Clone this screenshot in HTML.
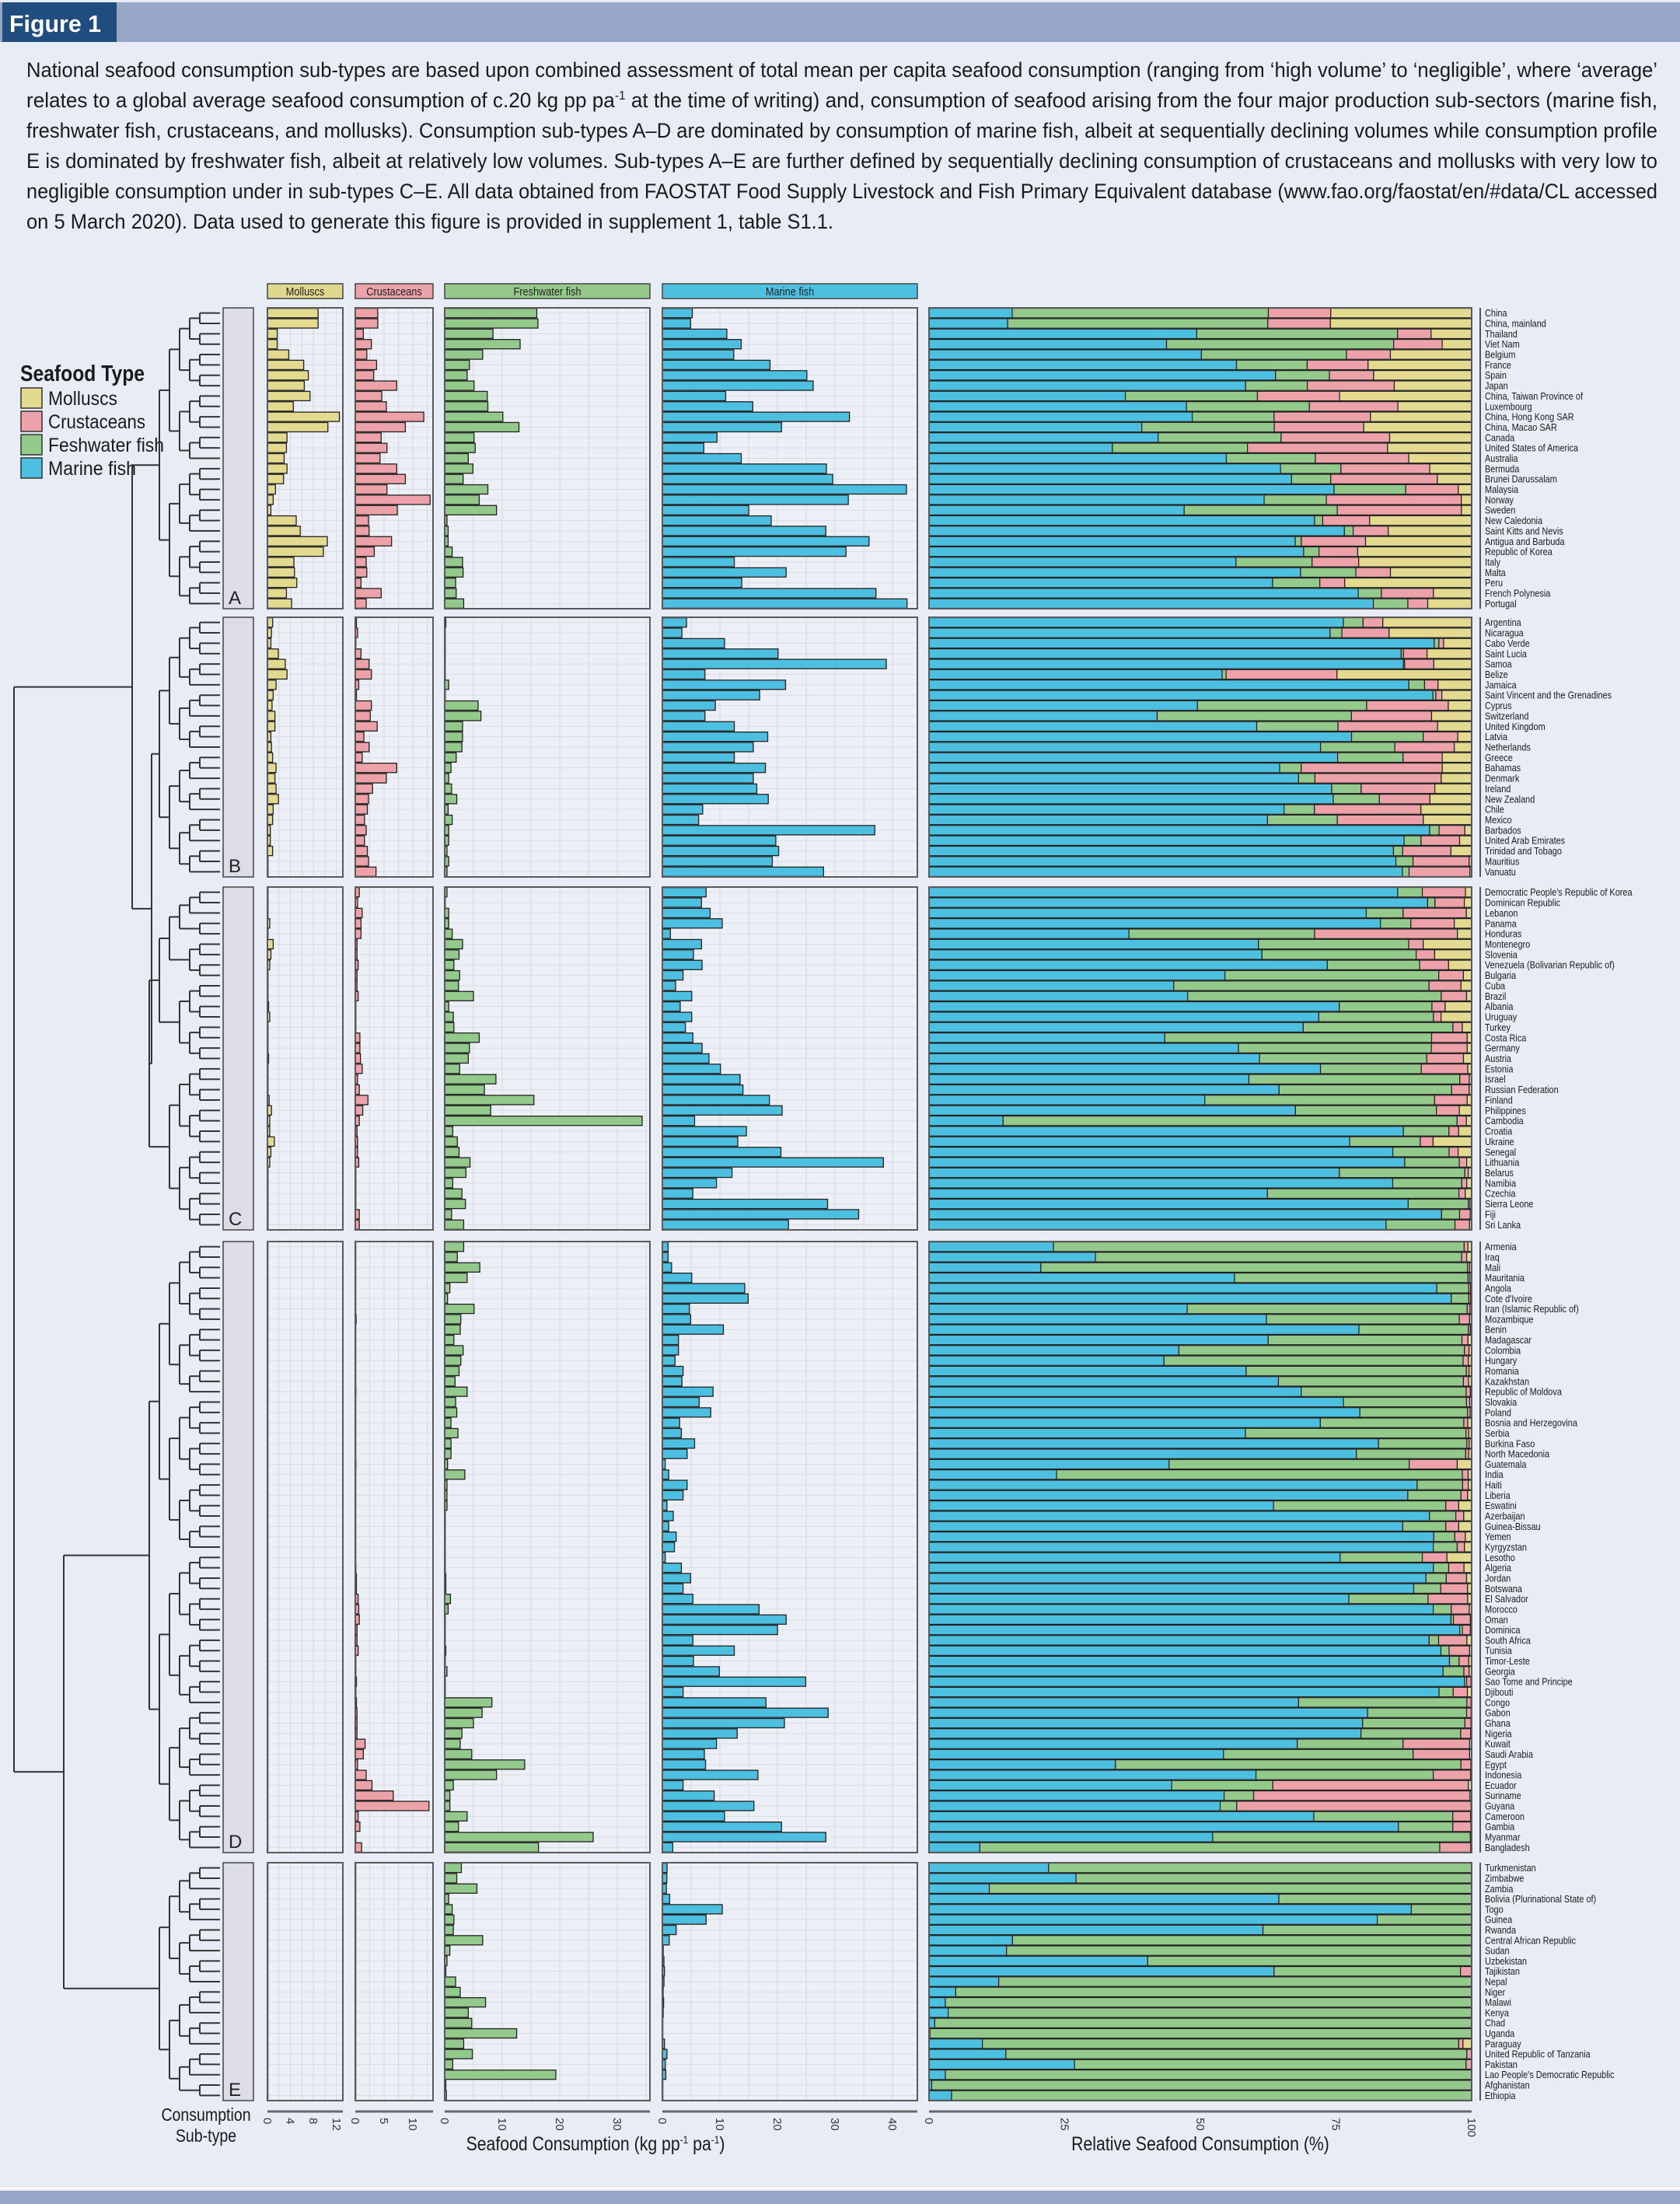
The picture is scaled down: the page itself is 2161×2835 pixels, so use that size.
<!DOCTYPE html>
<html><head><meta charset="utf-8"><title>Figure 1 - National seafood consumption sub-types</title>
<style>
html,body{margin:0;padding:0;background:#e8edf5;}
svg{display:block;}
text{font-family:"Liberation Sans Narrow","Liberation Sans",sans-serif;}
</style></head>
<body>
<svg id="fig" xmlns="http://www.w3.org/2000/svg" width="2161" height="2835" viewBox="0 0 2161 2835">
<rect x="0" y="0" width="2161" height="2835" fill="#e8edf5"/>
<rect x="0" y="3" width="2161" height="51" fill="#97a7c8"/>
<rect x="3" y="3" width="147" height="51" fill="#1f4d7e"/>
<text x="12" y="41" font-size="31" font-weight="bold" fill="#ffffff" textLength="118" lengthAdjust="spacingAndGlyphs">Figure 1</text>
<g font-size="27" fill="#1a1a1a">
<text x="34" y="99" textLength="2098" lengthAdjust="spacingAndGlyphs">National seafood consumption sub-types are based upon combined assessment of total mean per capita seafood consumption (ranging from ‘high volume’ to ‘negligible’, where ‘average’</text>
<text x="34" y="138" textLength="2098" lengthAdjust="spacingAndGlyphs">relates to a global average seafood consumption of c.20 kg pp pa<tspan font-size="16" dy="-10">-1</tspan><tspan dy="10"> at the time of writing) and, consumption of seafood arising from the four major production sub-sectors (marine fish,</tspan></text>
<text x="34" y="177" textLength="2098" lengthAdjust="spacingAndGlyphs">freshwater fish, crustaceans, and mollusks). Consumption sub-types A–D are dominated by consumption of marine fish, albeit at sequentially declining volumes while consumption profile</text>
<text x="34" y="216" textLength="2098" lengthAdjust="spacingAndGlyphs">E is dominated by freshwater fish, albeit at relatively low volumes. Sub-types A–E are further defined by sequentially declining consumption of crustaceans and mollusks with very low to</text>
<text x="34" y="255" textLength="2098" lengthAdjust="spacingAndGlyphs">negligible consumption under in sub-types C–E. All data obtained from FAOSTAT Food Supply Livestock and Fish Primary Equivalent database (www.fao.org/faostat/en/#data/CL accessed</text>
<text x="34" y="294" textLength="1038" lengthAdjust="spacingAndGlyphs">on 5 March 2020). Data used to generate this figure is provided in supplement 1, table S1.1.</text>
</g>
<g>
<text x="26" y="490" font-size="29" font-weight="bold" fill="#1a1a1a" textLength="160" lengthAdjust="spacingAndGlyphs">Seafood Type</text>
<rect x="27" y="499" width="27" height="26" fill="#e3d98f" stroke="#333" stroke-width="1.5"/>
<text x="62" y="521" font-size="25" fill="#1a1a1a" textLength="89" lengthAdjust="spacingAndGlyphs">Molluscs</text>
<rect x="27" y="529" width="27" height="26" fill="#eca2a8" stroke="#333" stroke-width="1.5"/>
<text x="62" y="551" font-size="25" fill="#1a1a1a" textLength="125" lengthAdjust="spacingAndGlyphs">Crustaceans</text>
<rect x="27" y="559" width="27" height="26" fill="#93c98a" stroke="#333" stroke-width="1.5"/>
<text x="62" y="581" font-size="25" fill="#1a1a1a" textLength="149" lengthAdjust="spacingAndGlyphs">Feshwater fish</text>
<rect x="27" y="589" width="27" height="26" fill="#4dc0e2" stroke="#333" stroke-width="1.5"/>
<text x="62" y="611" font-size="25" fill="#1a1a1a" textLength="113" lengthAdjust="spacingAndGlyphs">Marine fish</text>
</g>
<rect x="0" y="2814" width="2161" height="2" fill="#ffffff"/>
<rect x="0" y="2818" width="2161" height="17" fill="#97a7c8"/>
<g id="plot"></g>
</svg>
<script>
// ---- data ----
const groupNames = ["A","B","C","D","E"];
const groupSizes = [29,25,33,59,23];
const countries = [
"China","China, mainland","Thailand","Viet Nam","Belgium","France","Spain","Japan","China, Taiwan Province of","Luxembourg","China, Hong Kong SAR","China, Macao SAR","Canada","United States of America","Australia","Bermuda","Brunei Darussalam","Malaysia","Norway","Sweden","New Caledonia","Saint Kitts and Nevis","Antigua and Barbuda","Republic of Korea","Italy","Malta","Peru","French Polynesia","Portugal",
"Argentina","Nicaragua","Cabo Verde","Saint Lucia","Samoa","Belize","Jamaica","Saint Vincent and the Grenadines","Cyprus","Switzerland","United Kingdom","Latvia","Netherlands","Greece","Bahamas","Denmark","Ireland","New Zealand","Chile","Mexico","Barbados","United Arab Emirates","Trinidad and Tobago","Mauritius","Vanuatu",
"Democratic People's Republic of Korea","Dominican Republic","Lebanon","Panama","Honduras","Montenegro","Slovenia","Venezuela (Bolivarian Republic of)","Bulgaria","Cuba","Brazil","Albania","Uruguay","Turkey","Costa Rica","Germany","Austria","Estonia","Israel","Russian Federation","Finland","Philippines","Cambodia","Croatia","Ukraine","Senegal","Lithuania","Belarus","Namibia","Czechia","Sierra Leone","Fiji","Sri Lanka",
"Armenia","Iraq","Mali","Mauritania","Angola","Cote d'Ivoire","Iran (Islamic Republic of)","Mozambique","Benin","Madagascar","Colombia","Hungary","Romania","Kazakhstan","Republic of Moldova","Slovakia","Poland","Bosnia and Herzegovina","Serbia","Burkina Faso","North Macedonia","Guatemala","India","Haiti","Liberia","Eswatini","Azerbaijan","Guinea-Bissau","Yemen","Kyrgyzstan","Lesotho","Algeria","Jordan","Botswana","El Salvador","Morocco","Oman","Dominica","South Africa","Tunisia","Timor-Leste","Georgia","Sao Tome and Principe","Djibouti","Congo","Gabon","Ghana","Nigeria","Kuwait","Saudi Arabia","Egypt","Indonesia","Ecuador","Suriname","Guyana","Cameroon","Gambia","Myanmar","Bangladesh",
"Turkmenistan","Zimbabwe","Zambia","Bolivia (Plurinational State of)","Togo","Guinea","Rwanda","Central African Republic","Sudan","Uzbekistan","Tajikistan","Nepal","Niger","Malawi","Kenya","Chad","Uganda","Paraguay","United Republic of Tanzania","Pakistan","Lao People's Democratic Republic","Afghanistan","Ethiopia"];
const molluscs = [
8.8,8.8,1.7,1.7,3.7,6.3,7.1,6.4,7.4,4.5,12.5,10.5,3.4,3.3,2.9,3.4,2.8,1.4,1.0,0.6,5.0,5.7,10.4,9.7,4.6,4.7,5.1,3.3,4.2,
0.9,0.7,0.6,1.9,3.1,3.4,1.5,1.0,0.8,1.3,1.3,0.6,0.7,0.9,1.5,1.3,1.5,1.9,1.0,0.9,0.5,0.5,0.9,0.1,0.1,
0.1,0.1,0.1,0.4,0.1,1.0,0.6,0.4,0.1,0.1,0.1,0.2,0.4,0.1,0.1,0.1,0.2,0.1,0.1,0.1,0.3,0.7,0.4,0.4,1.2,0.6,0.4,0.1,0.1,0.1,0.1,0.1,0.1,
0.03,0.03,0.03,0.03,0.03,0.03,0.03,0.03,0.03,0.03,0.03,0.03,0.03,0.03,0.03,0.03,0.03,0.03,0.03,0.03,0.03,0.03,0.03,0.03,0.03,0.03,0.03,0.03,0.03,0.03,0.03,0.05,0.05,0.03,0.05,0.08,0.05,0.05,0.05,0.05,0.03,0.05,0.03,0.03,0.03,0.03,0.03,0.03,0.05,0.05,0.03,0.05,0.05,0.05,0.03,0.03,0.03,0.03,0.03,
0,0,0,0,0,0,0,0,0,0,0,0,0,0,0,0,0,0.06,0,0,0,0,0];
const crustaceans = [
3.9,3.9,1.4,2.8,2.0,3.7,3.2,7.2,4.6,5.4,11.9,8.7,4.5,5.5,4.3,7.2,8.7,5.5,13.0,7.3,2.3,2.4,6.3,3.3,1.9,2.0,1.0,4.5,1.9,
0.2,0.4,0.1,1.0,2.4,2.8,0.6,0.2,2.8,2.6,3.8,1.5,2.4,1.2,7.2,5.4,3.0,2.3,2.1,1.6,1.9,1.6,2.1,2.3,3.6,
0.7,0.4,1.2,1.0,1.0,0.3,0.3,0.5,0.3,0.3,0.5,0.1,0.1,0.1,0.8,0.8,0.9,1.2,0.4,0.7,2.2,1.3,0.7,0.3,0.4,0.4,0.6,0.1,0.1,0.1,0.1,0.7,0.7,
0.03,0.03,0.03,0.03,0.05,0.05,0.05,0.15,0.05,0.05,0.05,0.05,0.03,0.05,0.1,0.05,0.05,0.03,0.03,0.03,0.03,0.1,0.05,0.05,0.05,0.03,0.03,0.03,0.05,0.03,0.03,0.1,0.2,0.2,0.5,0.6,0.7,0.3,0.3,0.5,0.1,0.1,0.2,0.1,0.2,0.3,0.3,0.3,1.7,1.4,0.4,1.9,2.9,6.6,12.8,0.5,0.8,0.1,1.1,
0,0,0,0,0,0,0,0,0,0,0.012,0,0,0,0,0,0,0.03,0.05,0.02,0,0,0];
const freshwater = [
16.0,16.2,8.4,13.1,6.6,4.3,3.9,5.1,7.4,7.5,10.1,12.9,5.1,5.3,4.1,4.9,3.2,7.5,6.0,9.0,0.4,0.6,0.6,1.3,3.1,3.2,1.9,2.0,3.3,
0.2,0.1,0.1,0.1,0.1,0.1,0.7,0.1,5.8,6.3,3.1,3.1,3.0,2.0,1.1,0.7,1.2,2.1,0.6,1.3,0.7,0.7,0.4,0.7,0.4,
0.4,0.1,0.7,0.7,1.3,3.1,2.5,1.6,2.6,2.4,5.0,0.7,1.5,1.6,6.0,4.3,4.1,2.6,8.9,6.9,15.5,8.0,34.3,1.4,2.2,2.5,4.4,3.7,1.4,3.0,3.6,1.2,3.3,
3.3,2.2,6.1,3.9,0.9,0.5,5.1,2.8,2.7,1.6,3.2,2.8,2.5,1.8,3.9,1.9,2.1,1.1,2.3,1.1,1.1,0.5,3.5,0.4,0.4,0.4,0.1,0.1,0.1,0.1,0.1,0.1,0.2,0.2,1.0,0.6,0.1,0.1,0.1,0.2,0.1,0.4,0.1,0.1,8.2,6.5,5.0,3.0,2.7,4.7,13.9,9.0,1.5,0.9,0.9,3.9,2.4,25.8,16.3,
2.9,2.1,5.6,0.7,1.3,1.6,1.5,6.6,0.9,0.4,0.2,1.9,2.7,7.1,4.1,4.7,12.5,3.3,4.8,1.4,19.3,0.2,0.3];
const marine = [
5.2,4.9,11.2,13.7,12.4,18.7,25.1,26.2,11.0,15.7,32.5,20.7,9.5,7.2,13.7,28.5,29.6,42.4,32.3,15.0,18.9,28.4,35.9,31.9,12.5,21.5,13.8,37.1,42.5,
4.2,3.4,10.8,20.1,38.9,7.4,21.4,16.9,9.2,7.4,12.5,18.3,15.8,12.5,17.9,15.8,16.4,18.4,7.0,6.3,36.9,19.7,20.2,19.1,28.0,
7.6,6.8,8.3,10.4,1.4,6.8,5.4,6.9,3.6,2.3,5.1,3.1,5.1,4.0,5.3,6.9,8.1,10.1,13.5,14.0,18.6,20.8,5.6,14.6,13.1,20.6,38.4,12.1,9.4,5.3,28.7,34.1,21.9,
1.0,1.0,1.6,5.1,14.3,14.9,4.7,4.9,10.6,2.8,2.8,2.2,3.6,3.4,8.8,6.4,8.4,3.0,3.3,5.6,4.3,0.5,1.1,4.3,3.6,0.8,1.9,1.1,2.4,2.1,0.5,3.3,4.9,3.6,5.3,16.8,21.5,20.0,5.3,12.5,5.4,9.9,24.9,3.6,18.0,28.8,21.2,13.0,9.4,7.3,7.5,16.6,3.6,9.0,15.9,10.8,20.7,28.4,1.8,
0.82,0.78,0.7,1.27,10.4,7.6,2.4,1.2,0.15,0.27,0.37,0.28,0.14,0.22,0.15,0.05,0.02,0.37,0.8,0.52,0.6,0.001,0.013];
const mollTicks = [0,4,8,12];
const crustTicks = [0,5,10];
const freshTicks = [0,10,20,30];
const marineTicks = [0,10,20,30,40];
const relTicks = [0,25,50,75,100];

// ---- layout ----
const NS = "http://www.w3.org/2000/svg";
const plot = document.getElementById("plot");
const groupTop = [396,794,1141,1597,2396];
const groupBottom = [783,1128,1582,2383,2702];
const UNIT = 7.405;
const panels = [
 {key:"molluscs", label:"Molluscs", x0:344, x1:441, vals:molluscs, ticks:mollTicks, fill:"#e3d98f", strip:"#e0d78e", minor:2},
 {key:"crustaceans", label:"Crustaceans", x0:457, x1:557, vals:crustaceans, ticks:crustTicks, fill:"#eca2a8", strip:"#eba2a9", minor:2.5},
 {key:"freshwater", label:"Freshwater fish", x0:572, x1:836, vals:freshwater, ticks:freshTicks, fill:"#93c98a", strip:"#94c98b", minor:5},
 {key:"marine", label:"Marine fish", x0:852, x1:1180, vals:marine, ticks:marineTicks, fill:"#4dc0e2", strip:"#4dc0e2", minor:5}
];
const REL0 = 1195, REL1 = 1893;
function xScale(p, v){ return p.x0 + v*UNIT; }
function relScale(f){ return REL0 + f*(REL1-REL0); }
function mk(tag, attrs, parent){
  const e = document.createElementNS(NS, tag);
  for (const k in attrs) e.setAttribute(k, attrs[k]);
  (parent||plot).appendChild(e);
  return e;
}

// strips
panels.forEach(p=>{
  const s = mk("rect",{x:p.x0,y:365,width:p.x1-p.x0,height:19,fill:p.strip,stroke:"#444","stroke-width":1.5});
  
  
  const cx = (p.x0+p.x1)/2;
  const t = mk("text",{x:0,y:0,"font-size":15,"text-anchor":"middle",fill:"#222",transform:"translate("+cx+",380) scale(0.85,1)"});
  t.textContent = p.label;
  
  
});

let rowStart = 0;
groupNames.forEach((g, gi)=>{
  const n = groupSizes[gi], top = groupTop[gi], bot = groupBottom[gi];
  const pitch = (bot-top)/n;
  const rowY = i => top + pitch*(i+0.5);
  const gs = mk("rect",{x:287,y:top,width:39,height:bot-top,fill:"#dcdde6",stroke:"#444","stroke-width":1.5});
  
  
  const gl = mk("text",{x:294,y:bot-6,"font-size":24,fill:"#222"});
  gl.textContent = g;
  
  
  panels.forEach(p=>{
    const bg = mk("rect",{x:p.x0,y:top,width:p.x1-p.x0,height:bot-top,fill:"#ecf0f6"});
    
    
    const maxV = (p.x1-p.x0)/UNIT;
    for (let v=p.minor; v<maxV; v+=p.minor){
      const gx = xScale(p,v);
      const gline = mk("line",{x1:gx,x2:gx,y1:top,y2:bot,stroke:"#d3d8e1","stroke-width":1});
      
      
    }
    for (let i=0;i<n;i++){
      const hl = mk("line",{x1:p.x0,x2:p.x1,y1:rowY(i),y2:rowY(i),stroke:"#d8dce5","stroke-width":1});
      
      
    }
    for (let i=0;i<n;i++){
      const v = p.vals[rowStart+i];
      const w = Math.max(v*UNIT, 0.6);
      const b = mk("rect",{x:p.x0,y:rowY(i)-pitch*0.45,width:w,height:pitch*0.9,fill:p.fill,stroke:"#222","stroke-width":1.3});
      
      
    }
    const bd = mk("rect",{x:p.x0,y:top,width:p.x1-p.x0,height:bot-top,fill:"none",stroke:"#5a5a5a","stroke-width":2});
    
    
  });
  const rbg = mk("rect",{x:REL0,y:top,width:REL1-REL0,height:bot-top,fill:"#ecf0f6"});
  
  
  for (let i=0;i<n;i++){
    const k = rowStart+i;
    const parts = [[marine[k],"#4dc0e2","marine"],[freshwater[k],"#93c98a","freshwater"],[crustaceans[k],"#eca2a8","crustaceans"],[molluscs[k],"#e3d98f","molluscs"]];
    const tot = parts.reduce((a,b)=>a+b[0],0);
    let acc = 0;
    parts.forEach(pt=>{
      const f = pt[0]/tot;
      if (f<=0) return;
      const x = relScale(acc), x2 = relScale(acc+f);
      const r = mk("rect",{x:x,y:rowY(i)-pitch*0.46,width:x2-x,height:pitch*0.92,fill:pt[1],stroke:"#222","stroke-width":1.2});
      
      
      acc += f;
    });
    const ly = rowY(i)+4.5;
    const lab = mk("text",{x:0,y:0,"font-size":13,fill:"#1a1a1a",transform:"translate(1910,"+ly+") scale(0.84,1)"});
    lab.textContent = countries[k];
    
    
  }
  const rbd = mk("rect",{x:REL0,y:top,width:REL1-REL0,height:bot-top,fill:"none",stroke:"#5a5a5a","stroke-width":2});
  
  
  const ax = mk("line",{x1:1904,x2:1904,y1:top,y2:bot,stroke:"#555","stroke-width":2});
  
  
  rowStart += n;
});

// ---- dendrogram ----
const LEAF_X = 277;
function buildTree(ys){
  if (ys.length===1) return {x:LEAF_X, y:ys[0]};
  const m = Math.ceil(ys.length/2);
  const a = buildTree(ys.slice(0,m)), b = buildTree(ys.slice(m));
  const h = 7 + 13*Math.ceil(Math.log2(ys.length));
  return {x:LEAF_X-h, y:(a.y+b.y)/2, kids:[a,b]};
}
function drawTree(node){
  if (!node.kids) {
    const lf = mk("line",{x1:LEAF_X,x2:283,y1:node.y,y2:node.y,stroke:"#333","stroke-width":2});
    
    
    return;
  }
  const [a,b] = node.kids;
  const v = mk("line",{x1:node.x,x2:node.x,y1:a.y,y2:b.y,stroke:"#333","stroke-width":2});
  
  
  [a,b].forEach(c=>{
    const hh = mk("line",{x1:node.x,x2:c.x,y1:c.y,y2:c.y,stroke:"#333","stroke-width":2});
    
    
    drawTree(c);
  });
}
const groupTrees = [];
groupNames.forEach((g,gi)=>{
  const n = groupSizes[gi], top = groupTop[gi], pitch = (groupBottom[gi]-top)/n;
  const ys = []; for (let i=0;i<n;i++) ys.push(top+pitch*(i+0.5));
  const t = buildTree(ys); drawTree(t); groupTrees.push(t);
});
function join(a,b,x){
  const node = {x:x, y:(a.y+b.y)/2};
  const v = mk("line",{x1:x,x2:x,y1:a.y,y2:b.y,stroke:"#333","stroke-width":2});
  
  
  [a,b].forEach(c=>{
    const hh = mk("line",{x1:x,x2:c.x,y1:c.y,y2:c.y,stroke:"#333","stroke-width":2});
    
    
  });
  return node;
}
const bc = join(groupTrees[1], groupTrees[2], 195);
const abc = join(groupTrees[0], bc, 170);
const de = join(groupTrees[3], groupTrees[4], 82);
join(abc, de, 18);

// ---- bottom axes ----
const AXY = 2716;
panels.forEach(p=>{
  const al = mk("line",{x1:p.x0,x2:p.x1,y1:AXY,y2:AXY,stroke:"#666","stroke-width":3});
  
  
  p.ticks.forEach(tv=>{
    const tx = xScale(p,tv);
    const t = mk("text",{x:tx-5,y:AXY+8,"font-size":15,fill:"#333",transform:"rotate(90 "+(tx-5)+" "+(AXY+8)+")"});
    t.textContent = tv;
    
    
  });
});
const ral = mk("line",{x1:REL0,x2:REL1,y1:AXY,y2:AXY,stroke:"#666","stroke-width":3});


relTicks.forEach(tv=>{
  const tx = relScale(tv/100);
  const t = mk("text",{x:tx-5,y:AXY+8,"font-size":15,fill:"#333",transform:"rotate(90 "+(tx-5)+" "+(AXY+8)+")"});
  t.textContent = tv;
  
  
});
const xt = mk("text",{x:0,y:0,"font-size":25,"text-anchor":"middle",fill:"#1a1a1a",transform:"translate(766,2766) scale(0.85,1)"});
xt.innerHTML = 'Seafood Consumption (kg pp<tspan font-size="14" dy="-9">-1</tspan><tspan dy="9"> pa</tspan><tspan font-size="14" dy="-9">-1</tspan><tspan dy="9">)</tspan>';


const rt = mk("text",{x:0,y:0,"font-size":25,"text-anchor":"middle",fill:"#1a1a1a",transform:"translate(1544,2766) scale(0.85,1)"});
rt.textContent = "Relative Seafood Consumption (%)";


const c1 = mk("text",{x:0,y:0,"font-size":23,"text-anchor":"middle",fill:"#1a1a1a",transform:"translate(265,2728) scale(0.85,1)"});
c1.textContent = "Consumption";


const c2 = mk("text",{x:0,y:0,"font-size":23,"text-anchor":"middle",fill:"#1a1a1a",transform:"translate(265,2755) scale(0.85,1)"});
c2.textContent = "Sub-type";


</script>
</body></html>
